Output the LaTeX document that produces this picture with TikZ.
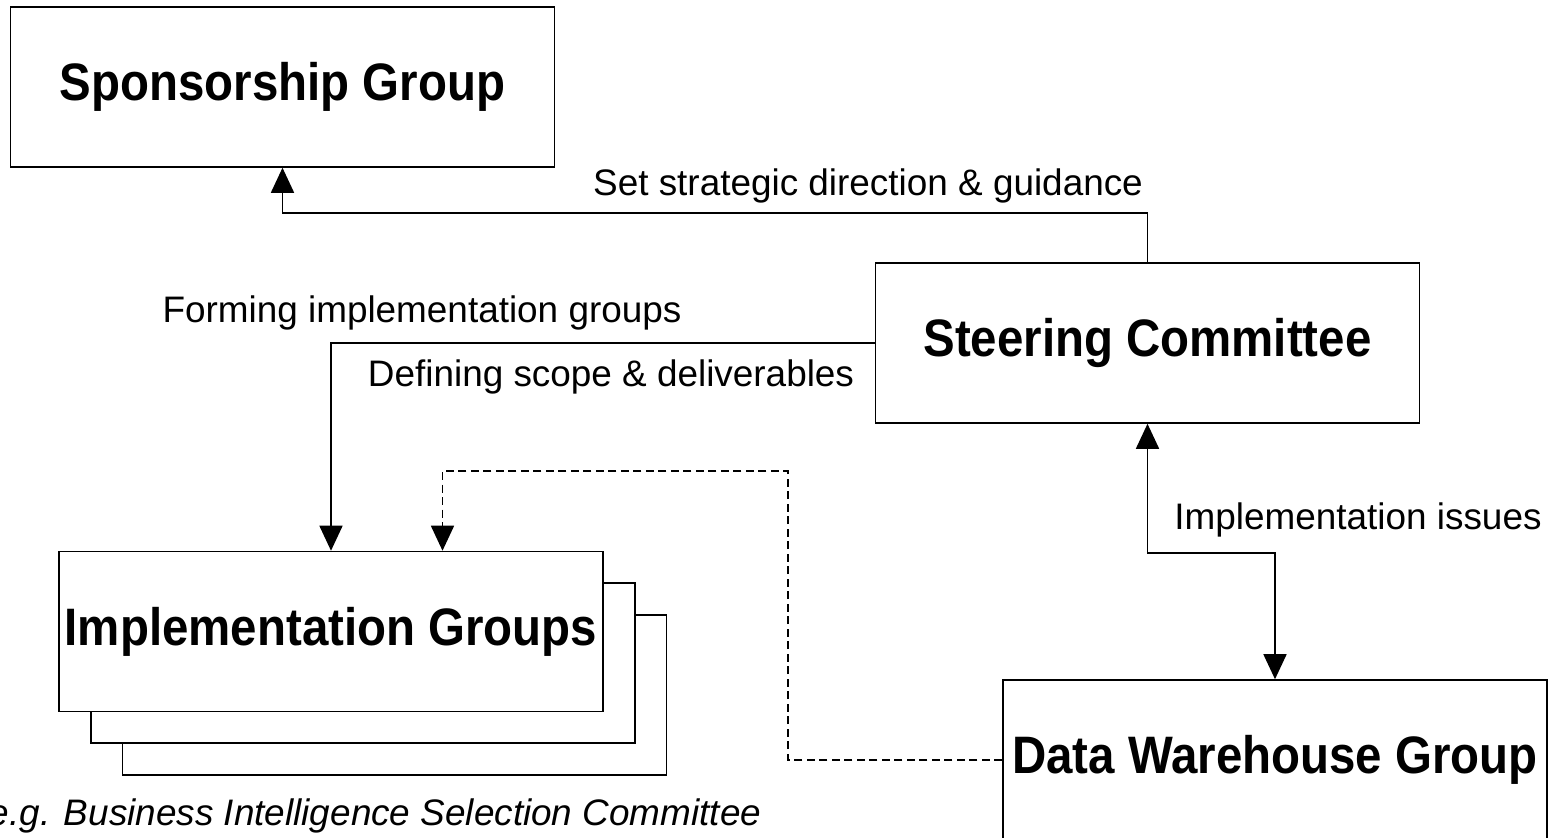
\documentclass[tikz,border=0pt]{standalone}
\usepackage{fontspec}
\setmainfont{Liberation Sans}
\newfontfamily\boxfont[FakeStretch=0.9]{Liberation Sans}
\usetikzlibrary{arrows.meta}
\usetikzlibrary{calc}
\tikzstyle{every picture}=[line width=0.9pt]
\tikzstyle{groupbox}=[draw, fill=white, minimum width=10.88cm, minimum height=3.2cm, inner sep=0pt, font=\boxfont\fontsize{30}{35}\selectfont\bfseries]
\tikzstyle{flowlabel}=[inner sep=0pt, font=\fontsize{21}{25}\selectfont]
\tikzstyle{notelabel}=[flowlabel, font=\fontsize{21}{25}\selectfont\itshape]

\begin{document}
\begin{tikzpicture}[x=0.02cm, y=-0.02cm, >={Triangle[length=0.5cm,width=0.46cm]}]
	\useasboundingbox (0,0) rectangle (1552,838);

	\path (282.5,87) node[groupbox] (sponsor) {Sponsorship Group}
	      (1147.5,343) node[groupbox] (steering) {Steering Committee}
	      (394.5,695) node[groupbox] (impl_3) {}
	      (363,663) node[groupbox] (impl_2) {}
	      (331,631.5) node[groupbox] (impl_1) {Implementation Groups}
	      (1275,760) node[groupbox] (dwh) {Data Warehouse Group};

	\path (868,186) node[flowlabel] (l_strategy) {Set strategic direction \& guidance}
	      (422,313) node[flowlabel] (l_forming) {Forming implementation groups}
	      (611,377) node[flowlabel] (l_scope) {Defining scope \& deliverables}
	      (1358,520) node[flowlabel] (l_issues) {Implementation issues}
	      (762,816) node[notelabel, anchor=east] (l_example) {e.g. Business Intelligence Selection Committee};

	\draw[->] (steering.north) -- ++(0,-49) -| (sponsor.south);
	\draw[->] (steering.west) -| (impl_1.north);
	\draw[<->] (steering.south) -- ++(0,129) -| (dwh.north);
	\draw[->, dash pattern=on 0.16cm off 0.09cm] (dwh.west) -- ++(-214,0) -- ++(0,-289) -| ($(impl_1.north)+(111.5,0)$);

\end{tikzpicture}
\end{document}
